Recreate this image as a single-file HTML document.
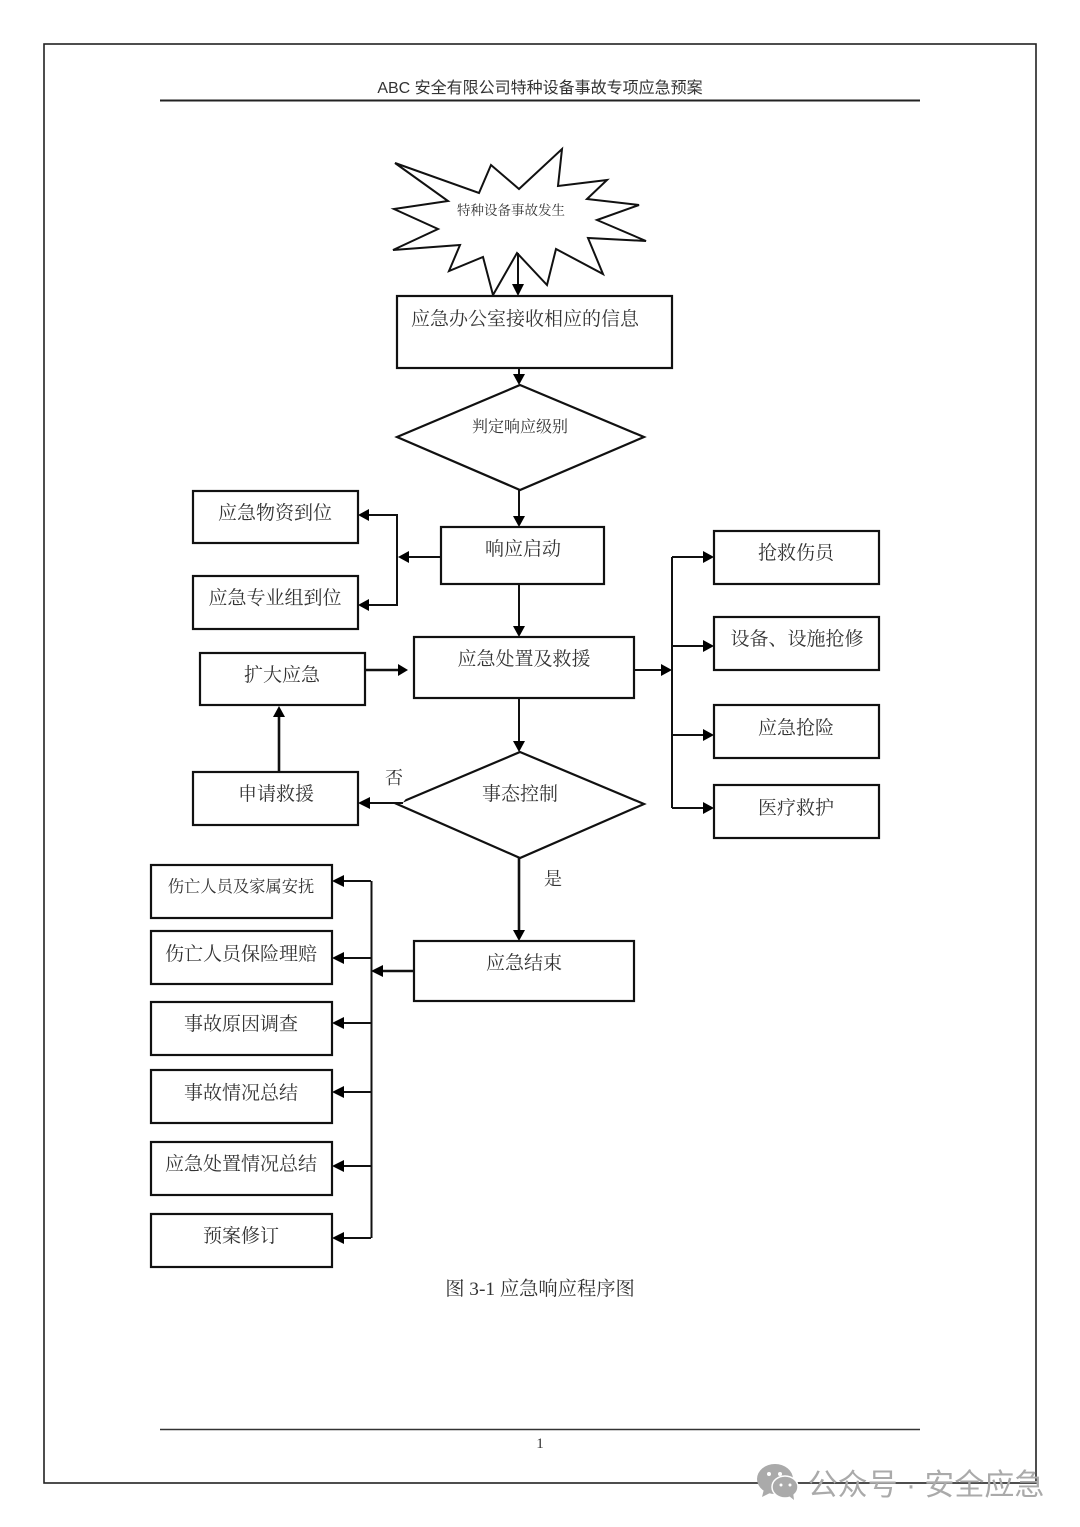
<!DOCTYPE html>
<html lang="zh">
<head>
<meta charset="utf-8">
<style>
html,body{margin:0;padding:0;background:#fff}
svg{display:block}
text{font-family:"Liberation Serif","Noto Serif CJK SC",serif;fill:#333;text-anchor:middle}
.s{font-family:"Liberation Sans","Noto Sans CJK SC",sans-serif}
.b{fill:#fff;stroke:#111;stroke-width:2.2}
.l{fill:none;stroke:#111;stroke-width:2}
.t{fill:none;stroke:#111;stroke-width:2.6}
.a{fill:#000;stroke:none}
</style>
</head>
<body>
<svg width="1080" height="1527" viewBox="0 0 1080 1527" xmlns="http://www.w3.org/2000/svg">
<rect width="1080" height="1527" fill="#fff"/>
<rect x="44" y="44" width="992" height="1439" fill="none" stroke="#222" stroke-width="1.6"/>
<text class="s" x="540" y="93" font-size="16">ABC 安全有限公司特种设备事故专项应急预案</text>
<line x1="160" y1="100.5" x2="920" y2="100.5" stroke="#222" stroke-width="2"/>
<line x1="160" y1="1429.5" x2="920" y2="1429.500" stroke="#333" stroke-width="1.4"/>
<text x="540" y="1448" font-size="15">1</text>

<!-- Burst -->
<polygon points="395,163 479,193 491,165 519,189 562,149 558,186 607,180 587,199 639,205 597,220 646,241 588,238 603,274 556,249 547,285 517,253 493,295 483,257 449,271 460,245 393,250 438,229 394,209 448,201" fill="#fff" stroke="#111" stroke-width="2"/>
<text x="511" y="215" font-size="13.500">特种设备事故发生</text>
<line class="l" x1="518" y1="253" x2="518" y2="285"/>
<polygon class="a" points="512,284 524,284 518,296"/>

<rect class="b" x="397" y="296" width="275" height="72"/>
<text x="525" y="325" font-size="19">应急办公室接收相应的信息</text>
<line class="l" x1="519" y1="368" x2="519" y2="376"/>
<polygon class="a" points="513,374 525,374 519,385"/>

<polygon class="b" points="520,385 644,437 520,490 397,437"/>
<text x="520" y="432" font-size="16">判定响应级别</text>
<line class="l" x1="519" y1="490" x2="519" y2="518"/>
<polygon class="a" points="513,516 525,516 519,527"/>

<rect class="b" x="193" y="491" width="165" height="52"/>
<text x="275" y="519" font-size="19">应急物资到位</text>
<rect class="b" x="193" y="576" width="165" height="53"/>
<text x="275" y="604" font-size="19">应急专业组到位</text>
<rect class="b" x="441" y="527" width="163" height="57"/>
<text x="523" y="555" font-size="19">响应启动</text>
<line class="l" x1="441" y1="557" x2="408" y2="557"/>
<polygon class="a" points="398,557 409,551 409,563"/>
<polyline class="l" points="368,515 397,515 397,605 368,605"/>
<polygon class="a" points="358,515 369,509 369,521"/>
<polygon class="a" points="358,605 369,599 369,611"/>
<line class="l" x1="519" y1="584" x2="519" y2="628"/>
<polygon class="a" points="513,626 525,626 519,637"/>

<rect class="b" x="414" y="637" width="220" height="61"/>
<text x="524" y="665" font-size="19">应急处置及救援</text>
<rect class="b" x="200" y="653" width="165" height="52"/>
<text x="282" y="681" font-size="19">扩大应急</text>
<line class="t" x1="365" y1="670" x2="400" y2="670"/>
<polygon class="a" points="398,664 398,676 408,670"/>
<line class="t" x1="279" y1="772" x2="279" y2="714"/>
<polygon class="a" points="273,717 285,717 279,706"/>
<rect class="b" x="193" y="772" width="165" height="53"/>
<text x="276" y="800" font-size="19">申请救援</text>

<line class="l" x1="519" y1="698" x2="519" y2="743"/>
<polygon class="a" points="513,741 525,741 519,752"/>
<polygon class="b" points="520,752 644,804 520,858 397,804"/>
<!-- broken left tip of the diamond -->
<polygon points="393,796 408,796 403,802.500 393,802" fill="#fff"/>
<line class="l" x1="368" y1="803" x2="403" y2="803"/>
<polygon class="a" points="358,803 370,797 370,809"/>
<text x="394" y="784" font-size="18">否</text>
<text x="520" y="800" font-size="19">事态控制</text>
<text x="553" y="885" font-size="18">是</text>
<line class="t" x1="519" y1="858" x2="519" y2="932"/>
<polygon class="a" points="513,930 525,930 519,941"/>

<!-- Right branch -->
<line class="l" x1="634" y1="670" x2="662" y2="670"/>
<polygon class="a" points="661,664 661,676 672,670"/>
<line class="l" x1="672" y1="557" x2="672" y2="808"/>
<line class="l" x1="672" y1="557" x2="704" y2="557"/>
<line class="l" x1="672" y1="646" x2="704" y2="646"/>
<line class="l" x1="672" y1="735" x2="704" y2="735"/>
<line class="l" x1="672" y1="808" x2="704" y2="808"/>
<polygon class="a" points="703,551 703,563 714,557"/>
<polygon class="a" points="703,640 703,652 714,646"/>
<polygon class="a" points="703,729 703,741 714,735"/>
<polygon class="a" points="703,802 703,814 714,808"/>
<rect class="b" x="714" y="531" width="165" height="53"/>
<text x="796" y="559" font-size="19">抢救伤员</text>
<rect class="b" x="714" y="617" width="165" height="53"/>
<text x="797" y="645" font-size="19">设备、设施抢修</text>
<rect class="b" x="714" y="705" width="165" height="53"/>
<text x="796" y="734" font-size="19">应急抢险</text>
<rect class="b" x="714" y="785" width="165" height="53"/>
<text x="796" y="814" font-size="19">医疗救护</text>

<!-- End -->
<rect class="b" x="414" y="941" width="220" height="60"/>
<text x="524" y="969" font-size="19">应急结束</text>
<line class="t" x1="414" y1="971" x2="380" y2="971"/>
<polygon class="a" points="371,971 383,965 383,977"/>
<line class="l" x1="371.500" y1="881" x2="371.500" y2="1238"/>
<polyline class="l" points="342,881 371,881"/>
<line class="l" x1="342" y1="958" x2="371" y2="958"/>
<line class="l" x1="342" y1="1023" x2="371" y2="1023"/>
<line class="l" x1="342" y1="1092" x2="371" y2="1092"/>
<line class="l" x1="342" y1="1166" x2="371" y2="1166"/>
<line class="l" x1="342" y1="1238" x2="371" y2="1238"/>
<polygon class="a" points="332,881 344,875 344,887"/>
<polygon class="a" points="332,958 344,952 344,964"/>
<polygon class="a" points="332,1023 344,1017 344,1029"/>
<polygon class="a" points="332,1092 344,1086 344,1098"/>
<polygon class="a" points="332,1166 344,1160 344,1172"/>
<polygon class="a" points="332,1238 344,1232 344,1244"/>

<rect class="b" x="151" y="865" width="181" height="53"/>
<text x="241" y="892" font-size="16.300">伤亡人员及家属安抚</text>
<rect class="b" x="151" y="931" width="181" height="53"/>
<text x="241" y="960" font-size="19">伤亡人员保险理赔</text>
<rect class="b" x="151" y="1002" width="181" height="53"/>
<text x="241" y="1030" font-size="19">事故原因调查</text>
<rect class="b" x="151" y="1070" width="181" height="53"/>
<text x="241" y="1099" font-size="19">事故情况总结</text>
<rect class="b" x="151" y="1142" width="181" height="53"/>
<text x="241" y="1170" font-size="19">应急处置情况总结</text>
<rect class="b" x="151" y="1214" width="181" height="53"/>
<text x="241" y="1242" font-size="19">预案修订</text>

<text x="540" y="1295" font-size="19.300">图 3-1 应急响应程序图</text>

<!-- Watermark -->
<g fill="#aaa">
<ellipse cx="775" cy="1479" rx="18" ry="15"/>
<polygon points="764,1489 762,1497 772,1492"/>
<ellipse cx="785" cy="1487" rx="13" ry="11" stroke="#fff" stroke-width="1.500"/>
<polygon points="789,1496 794,1500 793,1492"/>
<circle cx="769" cy="1474" r="2" fill="#fff"/>
<circle cx="780" cy="1474" r="2" fill="#fff"/>
<circle cx="781" cy="1485" r="1.500" fill="#fff"/>
<circle cx="790" cy="1485" r="1.500" fill="#fff"/>
</g>
<text class="s" x="926" y="1495" font-size="30" style="fill:#aaa">公众号 · 安全应急</text>
</svg>
</body>
</html>
